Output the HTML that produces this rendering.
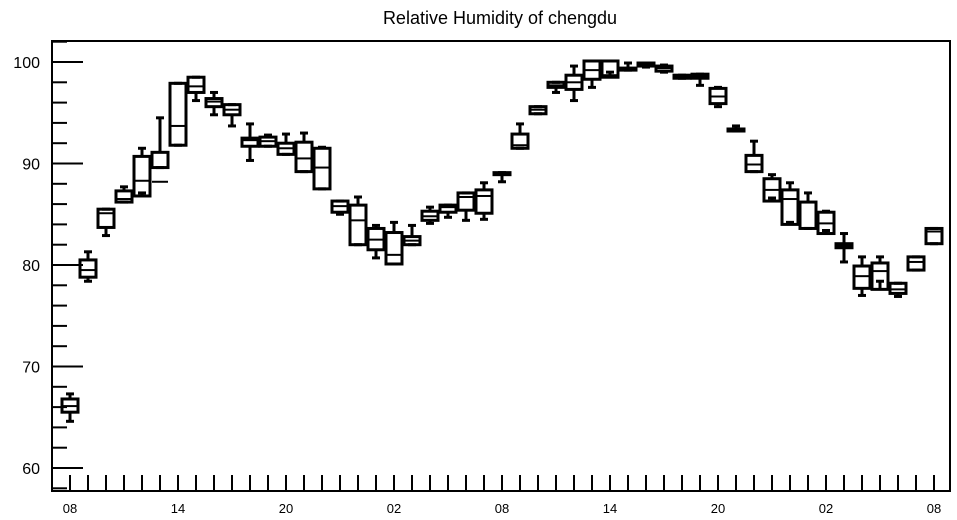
<!DOCTYPE html>
<html><head><meta charset="utf-8"><style>
html,body{margin:0;padding:0;background:#fff;width:957px;height:520px;overflow:hidden}
svg{display:block;font-family:"Liberation Sans",sans-serif}
</style></head><body>
<svg id="chart" width="957" height="520">
<text x="500" y="24" text-anchor="middle" font-size="18">Relative Humidity of chengdu</text>
<rect x="52" y="41" width="898" height="450" fill="none" stroke="#000" stroke-width="2"/>
<g id="yaxis"></g>
<g id="xaxis"></g>
<g id="boxes"></g>
</svg>
<script>
const q3 =  [66.8,80.5,85.5,87.3,90.7,91.1,97.9,98.5,96.4,95.8,92.5,92.6,92.0,92.1,91.5,86.3,85.9,83.6,83.2,82.8,85.3,85.9,87.1,87.4,89.1,92.9,95.6,98.0,98.7,100.1,100.1,99.4,99.9,99.6,98.7,98.8,97.4,93.4,90.8,88.5,87.4,86.2,85.2,82.1,79.9,80.2,78.2,80.8,83.6];
const q1 =  [65.5,78.8,83.7,86.2,86.8,89.6,91.8,97.0,95.6,94.8,91.7,91.7,90.9,89.2,87.5,85.2,82.0,81.5,80.1,82.0,84.4,85.2,85.4,85.1,88.9,91.5,94.9,97.5,97.3,98.3,98.5,99.2,99.6,99.1,98.4,98.4,95.9,93.2,89.2,86.3,84.0,83.6,83.1,81.7,77.7,77.6,77.2,79.5,82.1];
const med = [66.1,79.5,85.1,86.5,88.3,88.2,93.7,97.6,96.1,95.3,92.3,92.2,91.5,90.5,89.6,85.8,84.4,82.5,81.0,82.4,84.8,85.7,86.7,86.8,89.0,91.8,95.3,97.7,98.0,99.2,98.7,99.3,99.75,99.4,98.55,98.6,96.6,93.3,89.9,87.4,86.5,86.2,84.1,81.9,78.9,79.4,77.6,80.3,83.3];
const hi =  [67.3,81.3,85.5,87.7,91.5,94.5,97.9,98.5,97.0,95.8,93.9,92.8,92.9,93.0,91.6,86.3,86.7,83.9,84.2,83.9,85.7,85.9,87.1,88.1,89.1,93.9,95.6,98.0,99.6,100.1,100.1,99.9,99.9,99.7,98.7,98.8,97.5,93.7,92.2,88.9,88.1,87.1,85.3,83.1,80.8,80.8,78.2,80.8,83.6];
const lo =  [64.6,78.4,82.9,86.2,87.1,89.6,91.8,96.2,94.8,93.7,90.3,91.7,90.9,89.2,87.5,85.0,82.0,80.7,80.1,82.0,84.1,84.7,84.4,84.5,88.2,91.5,94.9,97.0,96.2,97.5,99.0,99.2,99.5,99.0,98.4,97.7,95.6,93.2,89.2,86.6,84.2,83.6,83.4,80.3,77.0,78.4,76.9,79.5,82.1];
const yTicks = [60,70,80,90,100];
const xLabels = ["08","14","20","02","08","14","20","02","08"];

const NS="http://www.w3.org/2000/svg";
const yS=v=>62+(100-v)*10.15;
const xS=i=>70+i*18;
function mk(tag,attrs,parent){const e=document.createElementNS(NS,tag);for(const k in attrs)e.setAttribute(k,attrs[k]);parent.appendChild(e);return e;}
const ya=document.getElementById('yaxis'),xa=document.getElementById('xaxis'),bx=document.getElementById('boxes');
for(let v=58;v<=102;v+=2){
  const major=yTicks.includes(v);
  const l=mk('line',{x1:52,x2:major?83:67,y1:yS(v),y2:yS(v),stroke:'#000','stroke-width':2},ya);
  
  
}
yTicks.forEach(v=>{
  const t=mk('text',{x:40,y:yS(v)+6,'text-anchor':'end','font-size':16},ya);
  t.textContent=v;
  
  
});
for(let i=0;i<q3.length;i++){
  const l=mk('line',{x1:xS(i),x2:xS(i),y1:491,y2:475,stroke:'#000','stroke-width':2},xa);
  
  
}
xLabels.forEach((s,k)=>{
  const t=mk('text',{x:xS(k*6),y:513,'text-anchor':'middle','font-size':13},xa);
  t.textContent=s;
  
  
});
for(let i=0;i<q3.length;i++){
  const g=mk('g',{stroke:'#000','stroke-width':3,fill:'none'},bx);
  
  
  const x=xS(i),t=yS(q3[i]),b=yS(q1[i]);
  mk('line',{x1:x,x2:x,y1:t,y2:yS(hi[i])},g);
  mk('line',{x1:x-4,x2:x+4,y1:yS(hi[i]),y2:yS(hi[i])},g);
  mk('line',{x1:x,x2:x,y1:b,y2:yS(lo[i])},g);
  mk('line',{x1:x-4,x2:x+4,y1:yS(lo[i]),y2:yS(lo[i])},g);
  mk('rect',{x:x-8,y:t,width:16,height:Math.max(b-t,1.5)},g);
  mk('line',{x1:x-8,x2:x+8,y1:yS(med[i]),y2:yS(med[i]),'stroke-width':2},g);
}
</script>
</body></html>
